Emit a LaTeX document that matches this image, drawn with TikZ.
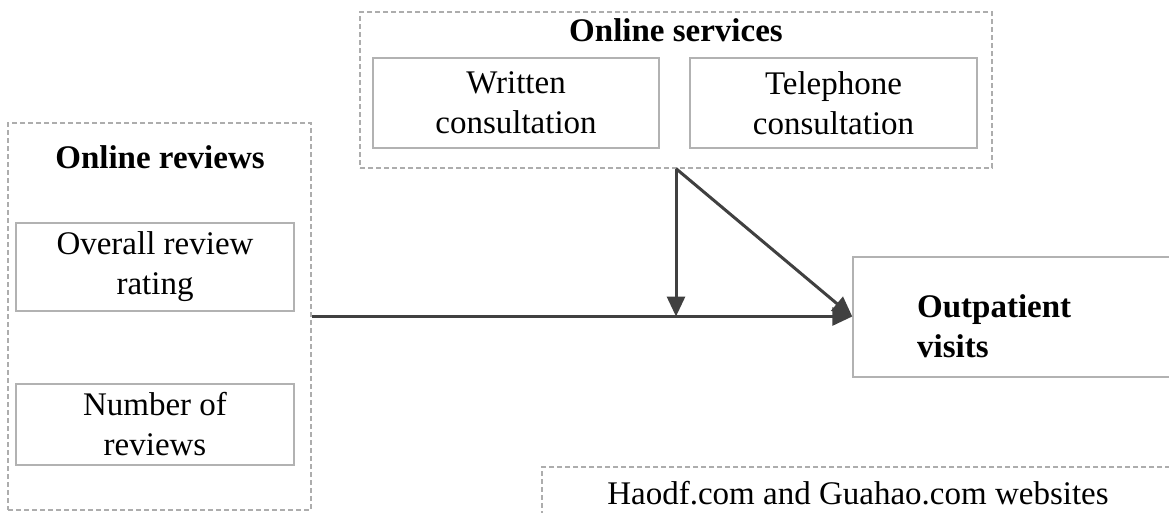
\documentclass[tikz,border=0pt]{standalone}
\usepackage{fontspec}
\setmainfont{Liberation Serif}
\usetikzlibrary{arrows.meta}
\begin{document}
\begin{tikzpicture}[x=1pt,y=-1pt,
  every node/.style={font=\fontsize{33}{40}\selectfont, inner sep=0pt, align=center},
  boldtext/.style={font=\bfseries\fontsize{33}{40}\selectfont},
  dbox/.style={draw=black!32, dash pattern=on 5pt off 3pt, line width=1.2pt},
  sbox/.style={draw=black!30, line width=1.5pt},
  conn/.style={draw=black!75, line width=3pt, -{Triangle[length=20pt,width=18pt]}}
]
\useasboundingbox (0,0) rectangle (1169,512);
\clip (0,0) rectangle (1169,512);
\fill[white] (0,0) rectangle (1169,512);

% Online services group
\node[dbox, minimum width=632pt, minimum height=156pt] (services) at (676,90) {};
\node[boldtext] (servtitle) at (676,30) {Online services};
\node[sbox, minimum width=286pt, minimum height=90pt] (written) at (516,103) {Written\\consultation};
\node[sbox, minimum width=287pt, minimum height=90pt] (phone) at (833.5,103) {Telephone\\consultation};

% Online reviews group
\node[dbox, minimum width=303pt, minimum height=387pt] (reviews) at (159.5,316.5) {};
\node[boldtext] (revtitle) at (160,157) {Online reviews};
\node[sbox, minimum width=278pt, minimum height=88pt] (overall) at (155,267) {Overall review\\rating};
\node[sbox, minimum width=278pt, minimum height=81pt] (number) at (155,424.5) {Number of\\reviews};

% Outcome
\node[sbox, minimum width=330pt, minimum height=120pt] (outpat) at (1018,317) {};
\node[boldtext, align=left, anchor=west] (outtext) at (917,326) {Outpatient\\visits};

% Websites
\node[dbox, minimum width=640pt, minimum height=60pt] (sites) at (862,497) {};
\node (sitestext) at (858,493) {Haodf.com and Guahao.com websites};

% Connectors
\coordinate (target) at (outpat.west |- reviews.east);
\coordinate (join) at (services.south |- reviews.east);
\draw[conn] (reviews.east) -- (target);
\draw[conn] (services.south) -- (join);
\draw[conn] (services.south) -- (target);
\end{tikzpicture}
\end{document}
